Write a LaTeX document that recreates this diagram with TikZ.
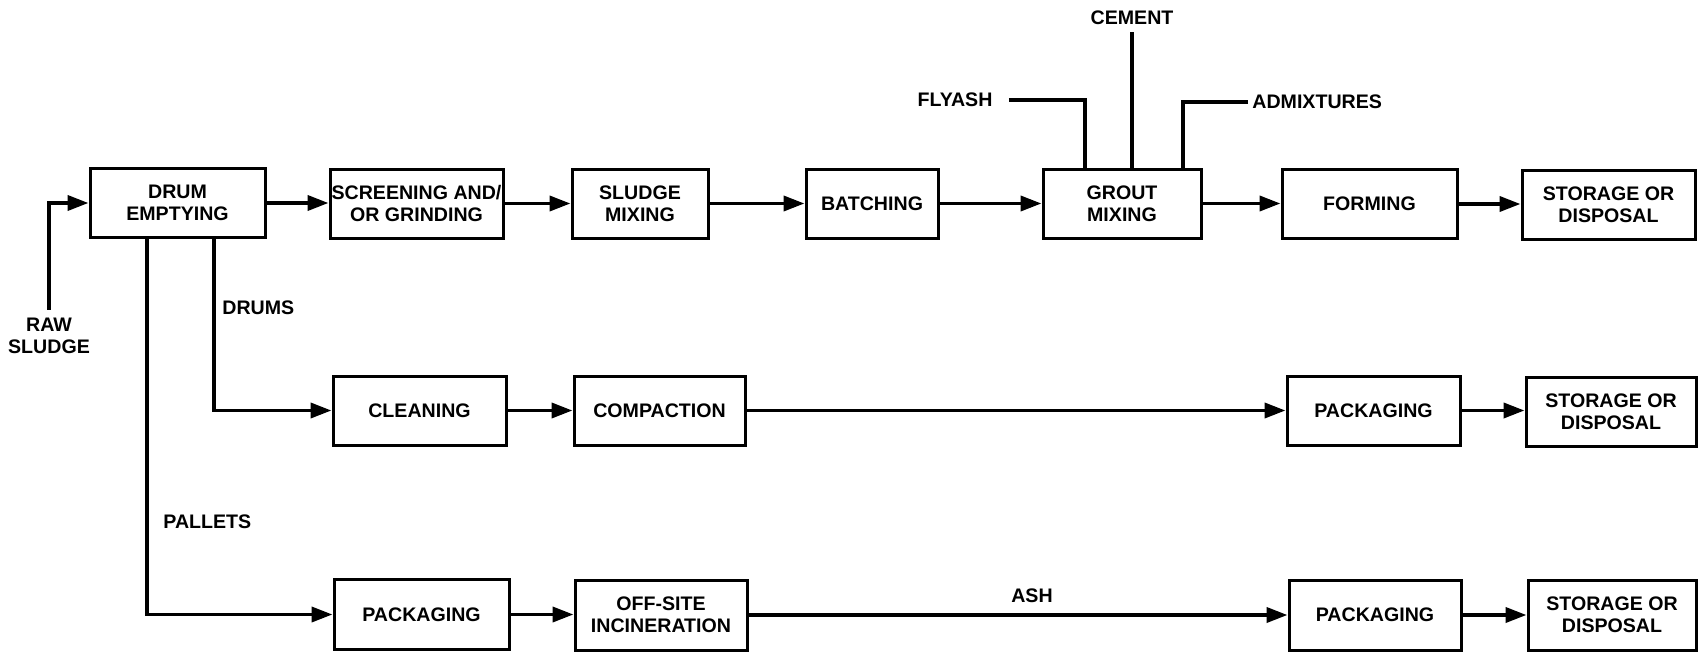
\documentclass[tikz,border=0pt]{standalone}
\usepackage{fontspec}
\setmainfont{Liberation Sans}
\usetikzlibrary{arrows.meta}
\begin{document}
\begin{tikzpicture}[x=0.5pt,y=-0.5pt,
  box/.style={draw,line width=1.5pt,inner sep=0pt,align=center,minimum width=86.5pt,minimum height=34.5pt,font=\bfseries\fontsize{9.8}{11}\selectfont},
  lbl/.style={inner sep=0pt,align=center,font=\bfseries\fontsize{9.8}{11}\selectfont},
  flow/.style={line width=1.9pt,-{Triangle[length=10.5pt,width=7.5pt]}},
  feed/.style={line width=1.9pt}
]
\useasboundingbox (0,0) rectangle (1707,658);

% row 1
\node[box,minimum width=87.5pt] (drum) at (177.5,203) {DRUM\\EMPTYING};
\node[box] (screen) at (416.5,203.5) {SCREENING AND/\\OR GRINDING};
\node[box,minimum width=68pt] (sludge) at (640,203.5) {SLUDGE\\MIXING};
\node[box,minimum width=66pt] (batch) at (872,203.5) {BATCHING};
\node[box,minimum width=79pt] (grout) at (1122,203.5) {GROUT\\MIXING};
\node[box,minimum width=87.5pt] (forming) at (1369.5,204) {FORMING};
\node[box] (stor1) at (1608.5,205) {STORAGE OR\\DISPOSAL};

% row 2
\node[box] (cleaning) at (419.5,410.5) {CLEANING};
\node[box,minimum width=85.5pt] (compaction) at (659.5,410.5) {COMPACTION};
\node[box] (pack2) at (1373.5,410.5) {PACKAGING};
\node[box,minimum width=85pt] (stor2) at (1611,411.5) {STORAGE OR\\DISPOSAL};

% row 3
\node[box,minimum width=87.5pt,minimum height=35pt] (pack3a) at (421.5,614.5) {PACKAGING};
\node[box,minimum width=86pt,minimum height=35pt] (offsite) at (661,615) {OFF-SITE\\INCINERATION};
\node[box,minimum width=86pt,minimum height=35pt] (pack3b) at (1375,615) {PACKAGING};
\node[box,minimum width=84pt,minimum height=35pt] (stor3) at (1612,615) {STORAGE OR\\DISPOSAL};

% labels
\node[lbl] (rawlbl) at (49,336) {RAW\\SLUDGE};
\node[lbl,anchor=west] (drumslbl) at (222,308) {DRUMS};
\node[lbl,anchor=west] (palletslbl) at (163,522) {PALLETS};
\node[lbl] (flyash) at (955,100) {FLYASH};
\node[lbl] (cement) at (1132,18) {CEMENT};
\node[lbl,anchor=west] (admix) at (1252,102) {ADMIXTURES};

% helper coordinates
\coordinate (drumsx) at (214,0);
\coordinate (palx) at (147,0);
\coordinate (flyx) at (1085,0);
\coordinate (admx) at (1183,0);

% raw sludge input
\draw[flow] ([yshift=4pt]rawlbl.north) |- (drum.west);

% row 1 flow
\draw[flow] (drum.east) -- (drum.east -| screen.west);
\draw[flow] (screen.east) -- (screen.east -| sludge.west);
\draw[flow] (sludge.east) -- (sludge.east -| batch.west);
\draw[flow] (batch.east) -- (batch.east -| grout.west);
\draw[flow] (grout.east) -- (grout.east -| forming.west);
\draw[flow] (forming.east) -- (forming.east -| stor1.west);

% branches from drum emptying
\draw[flow] (drum.south -| drumsx) |- (cleaning.west);
\draw[flow] (drum.south -| palx) |- (pack3a.west);

% row 2 flow
\draw[flow] (cleaning.east) -- (cleaning.east -| compaction.west);
\draw[flow] (compaction.east) -- (compaction.east -| pack2.west);
\draw[flow] (pack2.east) -- (pack2.east -| stor2.west);

% row 3 flow
\draw[flow] (pack3a.east) -- (pack3a.east -| offsite.west);
\draw[flow] (offsite.east) -- node[lbl,above=5pt,xshift=7pt]{ASH} (offsite.east -| pack3b.west);
\draw[flow] (pack3b.east) -- (pack3b.east -| stor3.west);

% grout feeds
\draw[feed] ([xshift=8pt]flyash.east) -| (grout.north -| flyx);
\draw[feed] ([yshift=-3.5pt]cement.south) -- (cement.south |- grout.north);
\draw[feed] ([xshift=-2pt]admix.west) -| (grout.north -| admx);
\end{tikzpicture}
\end{document}
